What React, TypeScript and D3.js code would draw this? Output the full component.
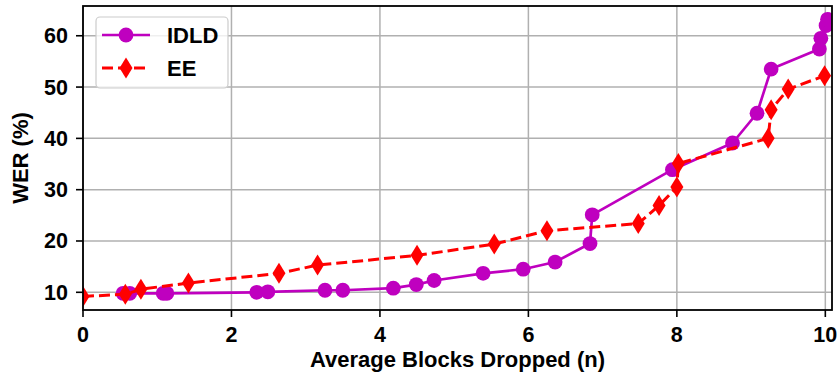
import React from "react";
import * as d3 from "d3";

// IDLD: average blocks dropped vs WER
const idldBlocks = [0.54, 0.63, 1.08, 1.13, 2.34, 2.49, 3.26, 3.5, 4.18, 4.49, 4.73, 5.39, 5.93, 6.36, 6.83, 6.86, 7.94, 8.75, 9.08, 9.27, 9.92, 9.94, 10.01, 10.03];
const idldWer = [9.8, 9.8, 9.8, 9.8, 10.0, 10.1, 10.4, 10.4, 10.8, 11.5, 12.3, 13.7, 14.5, 15.9, 19.5, 25.1, 33.9, 39.1, 44.9, 53.5, 57.4, 59.5, 62.0, 63.2];

// EE
const eeBlocks = [0.0, 0.57, 0.78, 1.42, 2.64, 3.16, 4.5, 5.54, 6.25, 7.48, 7.76, 8.0, 8.02, 9.23, 9.27, 9.5, 9.99];
const eeWer = [9.2, 9.6, 10.6, 11.8, 13.7, 15.3, 17.2, 19.4, 22.0, 23.4, 26.9, 30.5, 35.1, 40.0, 45.6, 49.6, 52.2];

const xTicks = [0, 2, 4, 6, 8, 10];
const yTicks = [10, 20, 30, 40, 50, 60];
const seriesNames = ["IDLD", "EE"];

const W = 840;
const H = 380;
const plot = { left: 83, right: 832, top: 6, bottom: 310 };
const font = "'Liberation Sans', Arial, sans-serif";
const purple = "#bf00bf";
const red = "#ff0000";

function diamond(cx: number, cy: number, hw = 6.5, hh = 10.5) {
  return `M${cx},${cy - hh}L${cx + hw},${cy}L${cx},${cy + hh}L${cx - hw},${cy}Z`;
}

export default function App() {
  const x = d3.scaleLinear().domain([0, 10.09]).range([plot.left, plot.right]);
  const y = d3.scaleLinear().domain([6.55, 65.8]).range([plot.bottom, plot.top]);

  const idld = idldBlocks.map((b, i) => [b, idldWer[i]] as [number, number]);
  const ee = eeBlocks.map((b, i) => [b, eeWer[i]] as [number, number]);

  const line = d3
    .line<[number, number]>()
    .x((d) => x(d[0]))
    .y((d) => y(d[1]));

  return (
    <svg
      width={W}
      height={H}
      style={{ position: "absolute", left: 0, top: 0, background: "#fff" }}
      fontFamily={font}
    >
      <rect width={W} height={H} fill="#fff" />
      <defs>
        <clipPath id="plotclip">
          <rect x={plot.left} y={plot.top} width={plot.right - plot.left} height={plot.bottom - plot.top} />
        </clipPath>
      </defs>

      {/* grid */}
      {xTicks.map((t) => (
        <line key={"gx" + t} x1={x(t)} x2={x(t)} y1={plot.top} y2={plot.bottom} stroke="#b0b0b0" strokeWidth={1.5} />
      ))}
      {yTicks.map((t) => (
        <line key={"gy" + t} x1={plot.left} x2={plot.right} y1={y(t)} y2={y(t)} stroke="#b0b0b0" strokeWidth={1.5} />
      ))}

      <g clipPath="url(#plotclip)">
        {/* IDLD */}
        <path d={line(idld) || ""} fill="none" stroke={purple} strokeWidth={2.7} strokeLinejoin="round" />
        {idld.map((d, i) => (
          <circle key={"c" + i} cx={x(d[0])} cy={y(d[1])} r={7.4} fill={purple} />
        ))}
        {/* EE */}
        <path d={line(ee) || ""} fill="none" stroke={red} strokeWidth={3} strokeDasharray="11,5" />
        {ee.map((d, i) => (
          <path key={"d" + i} d={diamond(x(d[0]), y(d[1]))} fill={red} />
        ))}
      </g>

      {/* spines */}
      <rect x={plot.left} y={plot.top} width={plot.right - plot.left} height={plot.bottom - plot.top} fill="none" stroke="#000" strokeWidth={1.8} />

      {/* x ticks */}
      {xTicks.map((t) => (
        <g key={"xt" + t}>
          <line x1={x(t)} x2={x(t)} y1={plot.bottom} y2={plot.bottom + 7} stroke="#000" strokeWidth={1.6} />
          <text x={x(t)} y={plot.bottom + 32} textAnchor="middle" fontSize={21.5} fontWeight="bold">{t}</text>
        </g>
      ))}
      {/* y ticks */}
      {yTicks.map((t) => (
        <g key={"yt" + t}>
          <line x1={plot.left - 7} x2={plot.left} y1={y(t)} y2={y(t)} stroke="#000" strokeWidth={1.6} />
          <text x={plot.left - 15} y={y(t) + 7.5} textAnchor="end" fontSize={21.5} fontWeight="bold">{t}</text>
        </g>
      ))}

      <text x={(plot.left + plot.right) / 2} y={367} textAnchor="middle" fontSize={22} fontWeight="bold">
        Average Blocks Dropped (n)
      </text>
      <text
        transform={`translate(28,${(plot.top + plot.bottom) / 2}) rotate(-90)`}
        textAnchor="middle"
        fontSize={22}
        fontWeight="bold"
      >
        WER (%)
      </text>

      {/* legend */}
      <g>
        <rect x={96} y={17} width={132} height={71} rx={4} fill="#fff" fillOpacity={0.8} stroke="#cccccc" strokeWidth={1.2} />
        <line x1={102} x2={150} y1={35} y2={35} stroke={purple} strokeWidth={2.7} />
        <circle cx={126} cy={35} r={7.4} fill={purple} />
        <text x={167} y={43} fontSize={22} fontWeight="bold">{seriesNames[0]}</text>
        <line x1={102} x2={150} y1={68} y2={68} stroke={red} strokeWidth={3} strokeDasharray="11,5" />
        <path d={diamond(126, 68)} fill={red} />
        <text x={167} y={76} fontSize={22} fontWeight="bold">{seriesNames[1]}</text>
      </g>
    </svg>
  );
}
